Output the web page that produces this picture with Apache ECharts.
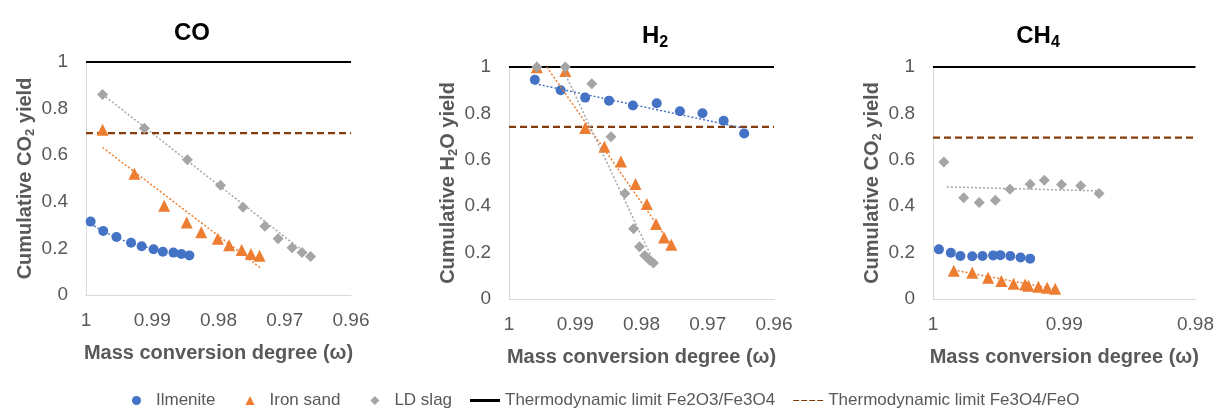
<!DOCTYPE html>
<html>
<head>
<meta charset="utf-8">
<script src="https://cdn.jsdelivr.net/npm/echarts@6/dist/echarts.min.js"></script>
<style>
  html, body { margin: 0; padding: 0; background: #fff; }
  #main { width: 1217px; height: 408px; }
</style>
</head>
<body>
<div id="main"></div>
<script>
// 数据：每个点 [质量转化度 ω, 累计产率]
var coIlmenite = [[0.9993, 0.315], [0.9974, 0.275], [0.9954, 0.249], [0.9932, 0.224], [0.9916, 0.209],
  [0.9898, 0.196], [0.9884, 0.186], [0.9868, 0.182], [0.9856, 0.176], [0.9844, 0.170]];
var coIronSand = [[0.9975, 0.709], [0.9927, 0.520], [0.9882, 0.383], [0.9848, 0.311], [0.9826, 0.269],
  [0.9801, 0.241], [0.9784, 0.214], [0.9765, 0.193], [0.9751, 0.176], [0.9738, 0.168]];
var coLDSlag = [[0.9975, 0.861], [0.9912, 0.716], [0.9847, 0.580], [0.9797, 0.471], [0.9763, 0.377],
  [0.9730, 0.295], [0.9710, 0.241], [0.9689, 0.203], [0.9674, 0.182], [0.9661, 0.165]];

var h2Ilmenite = [[0.9961, 0.945], [0.9922, 0.900], [0.9885, 0.868], [0.9849, 0.855], [0.9813, 0.834],
  [0.9777, 0.844], [0.9742, 0.809], [0.9708, 0.801], [0.9676, 0.768], [0.9645, 0.713]];
var h2IronSand = [[0.9958, 0.999], [0.9915, 0.983], [0.9885, 0.737], [0.9856, 0.656], [0.9831, 0.593],
  [0.9809, 0.496], [0.9792, 0.409], [0.9778, 0.323], [0.9766, 0.265], [0.9755, 0.234]];
var h2LDSlag = [[0.9958, 1.000], [0.9915, 1.000], [0.9875, 0.928], [0.9846, 0.699], [0.9825, 0.455],
  [0.9812, 0.303], [0.9803, 0.225], [0.9795, 0.188], [0.9788, 0.168], [0.9782, 0.155]];

var ch4Ilmenite = [[0.99955, 0.214], [0.99864, 0.199], [0.99791, 0.185], [0.99701, 0.184], [0.99623, 0.185],
  [0.99542, 0.188], [0.99487, 0.189], [0.99411, 0.185], [0.99333, 0.179], [0.99260, 0.174]];
var ch4IronSand = [[0.99842, 0.122], [0.99701, 0.113], [0.99580, 0.092], [0.99479, 0.078], [0.99386, 0.066],
  [0.99298, 0.062], [0.99273, 0.057], [0.99197, 0.053], [0.99130, 0.049], [0.99069, 0.044]];
var ch4LDSlag = [[0.99917, 0.590], [0.99766, 0.436], [0.99648, 0.416], [0.99525, 0.426], [0.99414, 0.473],
  [0.99260, 0.495], [0.99152, 0.512], [0.99021, 0.494], [0.98875, 0.488], [0.98735, 0.455]];

// 趋势线
var coIlmeniteTrend = [[0.9993, 0.305], [0.9954, 0.247], [0.9916, 0.211], [0.9884, 0.190], [0.9844, 0.172]];
var coIronSandTrend = [[0.9975, 0.633], [0.9737, 0.117]];
var coLDSlagTrend = [[0.9975, 0.861], [0.9659, 0.158]];
var h2IlmeniteTrend = [[0.9961, 0.928], [0.9647, 0.737]];
var h2IronSandTrend = [[0.9943, 1.000], [0.9757, 0.240]];
var h2LDSlagTrend = [[0.9917, 0.981], [0.9784, 0.175]];
var ch4IronSandTrend = [[0.99842, 0.125], [0.99066, 0.042]];
var ch4LDSlagTrend = [[0.99894, 0.483], [0.98735, 0.466]];

// 热力学极限
var limitFe2O3 = [1, 1, 1];
var limitFe3O4 = [0.695, 0.742, 0.696];

var panelTitles = ['CO', 'H{sub|2}', 'CH{sub|4}'];
var yNames = ['Cumulative CO{sub|2} yield', 'Cumulative H{sub|2}O yield', 'Cumulative CO{sub|2} yield'];
var xName = 'Mass conversion degree (ω)';
var xMins = [0.96, 0.96, 0.98];
var yTicks = [0, 0.2, 0.4, 0.6, 0.8, 1];

var names = ['Ilmenite', 'Iron sand', 'LD slag',
  'Thermodynamic limit Fe2O3/Fe3O4', 'Thermodynamic limit Fe3O4/FeO'];

var panels = [
  { ilm: coIlmenite, iron: coIronSand, ld: coLDSlag, tIlm: coIlmeniteTrend, tIron: coIronSandTrend, tLd: coLDSlagTrend },
  { ilm: h2Ilmenite, iron: h2IronSand, ld: h2LDSlag, tIlm: h2IlmeniteTrend, tIron: h2IronSandTrend, tLd: h2LDSlagTrend },
  { ilm: ch4Ilmenite, iron: ch4IronSand, ld: ch4LDSlag, tIlm: null, tIron: ch4IronSandTrend, tLd: ch4LDSlagTrend }
];

var BLUE = '#4472C4', ORANGE = '#ED7D31', GRAY = '#A5A5A5', BROWN = '#843C0C';
var FONT = "'Liberation Sans', Arial, sans-serif";

var grids = [
  { left: 86, top: 62, width: 265, height: 233 },
  { left: 509, top: 67, width: 265, height: 232 },
  { left: 933, top: 67, width: 265, height: 232 }
];
var titleX = [187, 650, 1033];

var titles = [], xAxes = [], yAxes = [], series = [];

panels.forEach(function (p, i) {
  titles.push({
    text: panelTitles[i],
    left: titleX[i], top: 16, textAlign: 'center',
    textStyle: {
      fontSize: 24, fontWeight: 'bold', color: '#000', fontFamily: FONT,
      rich: { sub: { fontSize: 16, fontWeight: 'bold', color: '#000', fontFamily: FONT, padding: [14, 0, 0, 0] } }
    }
  });
  xAxes.push({
    gridIndex: i, type: 'value', inverse: true,
    min: xMins[i], max: 1, interval: 0.01,
    name: xName, nameLocation: 'middle', nameGap: 48,
    nameTextStyle: { fontSize: 20, fontWeight: 'bold', color: '#595959', fontFamily: FONT },
    axisLine: { show: true, lineStyle: { color: '#D9D9D9', width: 1 } },
    axisTick: { show: false },
    splitLine: { show: false },
    axisLabel: { fontSize: 19, color: '#595959', margin: 16, fontFamily: FONT }
  });
  yAxes.push({
    gridIndex: i, type: 'value', min: 0, max: 1, interval: 0.2,
    name: yNames[i], nameLocation: 'middle', nameGap: 49,
    nameTextStyle: {
      fontSize: 20, fontWeight: 'bold', color: '#595959', fontFamily: FONT,
      rich: { sub: { fontSize: 13, fontWeight: 'bold', color: '#595959', fontFamily: FONT, padding: [10, 0, 0, 0] } }
    },
    axisLine: { show: true, lineStyle: { color: '#D9D9D9', width: 1 } },
    axisTick: { show: false },
    splitLine: { show: false },
    axisLabel: {
      fontSize: 19, color: '#595959', margin: 18, fontFamily: FONT,
      formatter: function (v) { return yTicks.indexOf(+v.toFixed(1)) >= 0 ? String(+v.toFixed(1)) : ''; }
    }
  });

  var x0 = xMins[i];
  series.push({
    name: names[3], type: 'line', xAxisIndex: i, yAxisIndex: i, symbol: 'none', silent: true,
    data: [[1, limitFe2O3[i]], [x0, limitFe2O3[i]]],
    lineStyle: { color: '#000', width: 2 }, itemStyle: { color: '#000' }, z: 1
  });
  series.push({
    name: names[4], type: 'line', xAxisIndex: i, yAxisIndex: i, symbol: 'none', silent: true,
    data: [[1, limitFe3O4[i]], [x0, limitFe3O4[i]]],
    lineStyle: { color: BROWN, width: 2.25, type: [7, 4] }, itemStyle: { color: BROWN }, z: 1
  });

  series.push({ name: names[0], type: 'scatter', xAxisIndex: i, yAxisIndex: i, data: p.ilm,
    symbol: 'circle', symbolSize: 10, itemStyle: { color: BLUE, opacity: 1 }, z: 3 });
  series.push({ name: names[1], type: 'scatter', xAxisIndex: i, yAxisIndex: i, data: p.iron,
    symbol: 'triangle', symbolSize: 12, itemStyle: { color: ORANGE, opacity: 1 }, z: 3 });
  series.push({ name: names[2], type: 'scatter', xAxisIndex: i, yAxisIndex: i, data: p.ld,
    symbol: 'diamond', symbolSize: 11, itemStyle: { color: GRAY, opacity: 1 }, z: 3 });

  [[p.tIlm, BLUE], [p.tIron, ORANGE], [p.tLd, GRAY]].forEach(function (t, k) {
    if (!t[0]) return;
    series.push({
      name: 'trend' + i + '_' + k, type: 'line', xAxisIndex: i, yAxisIndex: i, symbol: 'none',
      smooth: t[0].length > 2, silent: true, data: t[0],
      lineStyle: { color: t[1], width: 1.5, type: [2, 2] }, z: 4
    });
  });
});

var legendText = { fontSize: 17, color: '#595959', fontFamily: FONT };

var myChart = echarts.init(document.getElementById('main'));
var option = {
  animation: false,
  backgroundColor: '#fff',
  textStyle: { fontFamily: FONT },
  title: titles,
  grid: grids,
  xAxis: xAxes,
  yAxis: yAxes,
  legend: [{
    data: [{ name: names[0], icon: 'circle' }, { name: names[1], icon: 'triangle' }, { name: names[2], icon: 'diamond' }],
    left: 132, top: 392, padding: 0,
    itemWidth: 9, itemHeight: 9, itemGap: 30,
    textStyle: Object.assign({ padding: [0, 0, 0, 10] }, legendText)
  }, {
    data: [{ name: names[3], icon: 'rect' },
      { name: names[4], icon: 'path://M0,0h6v1h-6zM8,0h6v1h-6zM16,0h6v1h-6zM24,0h6v1h-6z' }],
    left: 470, top: 392, padding: 0,
    itemWidth: 30, itemHeight: 3, itemGap: 18,
    textStyle: legendText
  }],
  series: series
};
myChart.setOption(option);
</script>
</body>
</html>
